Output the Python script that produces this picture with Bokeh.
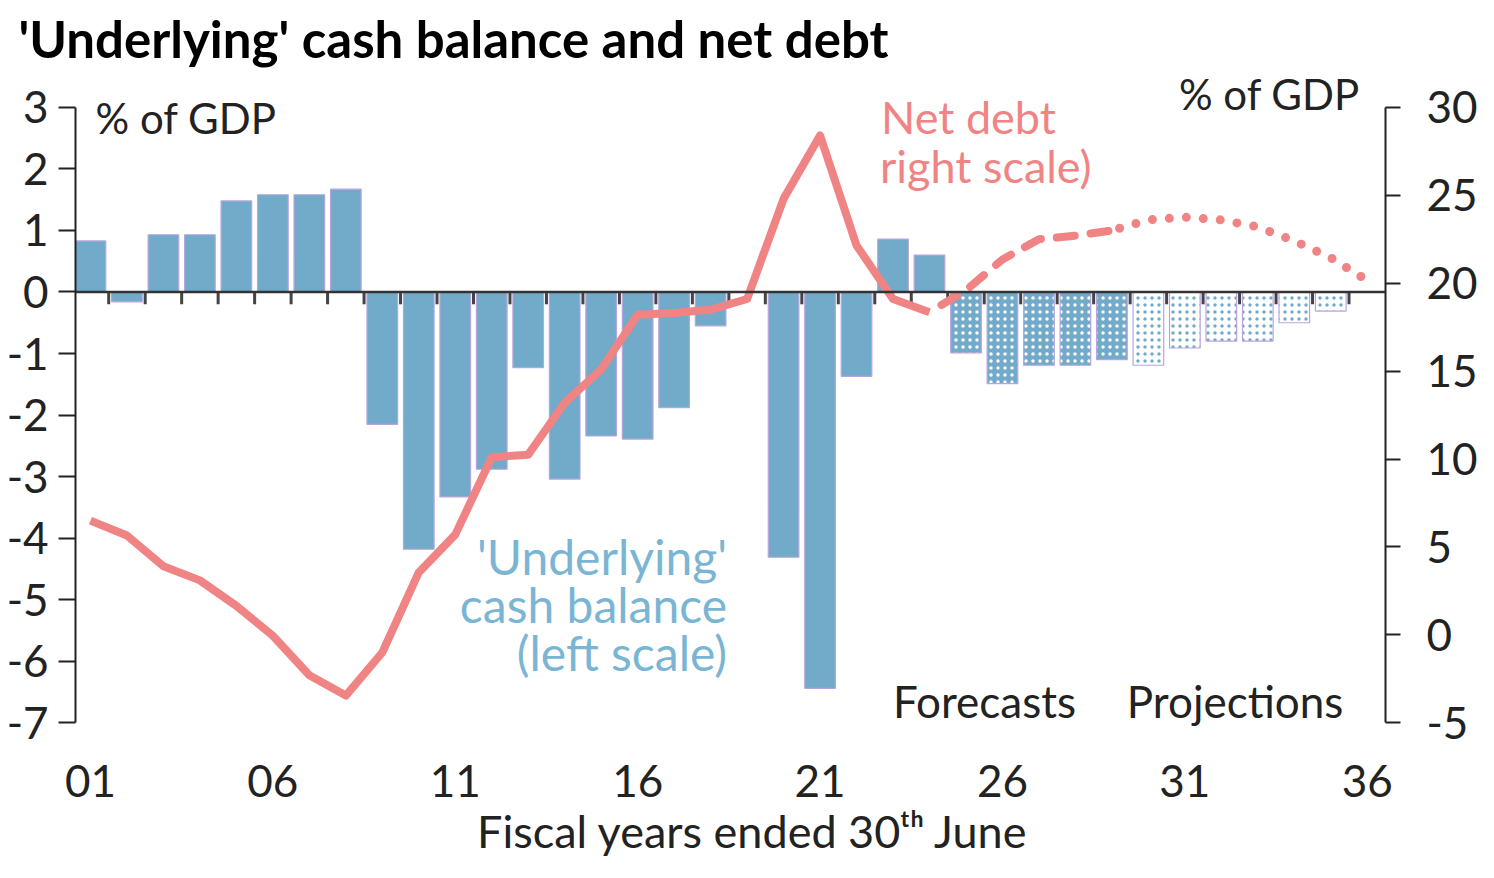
from bokeh.plotting import figure
from bokeh.models import Range1d, LinearAxis, FixedTicker, Span, Label
from bokeh.embed import file_html
from bokeh.resources import INLINE

# ---------------- data ----------------
bar_years = list(range(1, 36))            # fiscal years 2001..2035
cash_balance = [0.83, -0.16, 0.93, 0.93, 1.48, 1.58, 1.58, 1.67, -2.15, -4.18,
                -3.33, -2.88, -1.23, -3.04, -2.34, -2.39, -1.88, -0.55, 0.0, -4.31,
                -6.44, -1.37, 0.86, 0.60, -0.99, -1.49, -1.19, -1.19, -1.10, -1.19,
                -0.91, -0.80, -0.80, -0.50, -0.31]
debt_years = list(range(1, 37))           # fiscal years 2001..2036
net_debt = [6.5, 5.65, 3.9, 3.1, 1.65, -0.05, -2.3, -3.45, -1.0, 3.55,
            5.7, 10.1, 10.25, 13.2, 15.1, 18.2, 18.3, 18.5, 19.1, 24.8,
            28.4, 22.15, 19.1, 18.35, 19.6, 21.35, 22.5, 22.7, 23.0, 23.6,
            23.75, 23.6, 23.2, 22.4, 21.45, 20.15]
last_actual_year = 24
last_forecast_year = 29
x_ticks = [1, 6, 11, 16, 21, 26, 31, 36]
x_tick_labels = ["01", "06", "11", "16", "21", "26", "31", "36"]
left_ticks = [-7, -6, -5, -4, -3, -2, -1, 0, 1, 2, 3]
left_tick_labels = ["-7", "-6", "-5", "-4", "-3", "-2", "-1", "0", "1", "2", "3"]
right_ticks = [-5, 0, 5, 10, 15, 20, 25, 30]
right_tick_labels = ["-5", "0", "5", "10", "15", "20", "25", "30"]

# ---------------- style ----------------
FONT = "Lato"
BLUE = "#72aac9"
EDGE = "#b7a6de"
RED = "#f08484"
LBLUE = "#7ab6d4"
INK = "#222222"

LEFT_LO, LEFT_HI = -7.45, 3.55           # frame extent (axes drawn only over -7..3)
RATIO = 3.5                               # right-scale units per left-scale unit
p = figure(frame_width=1310, frame_height=677,
           x_range=Range1d(0.59, 36.5), y_range=Range1d(LEFT_LO, LEFT_HI),
           output_backend="svg", toolbar_location=None,
           min_border_left=75, min_border_right=93, min_border_top=63, min_border_bottom=60)
p.extra_y_ranges = {"debt": Range1d(-5 + (LEFT_LO + 7) * RATIO, -5 + (LEFT_HI + 7) * RATIO)}
p.outline_line_color = None
p.grid.visible = False
p.background_fill_color = "white"
p.border_fill_color = "white"

p.title.text = "'Underlying' cash balance and net debt"
p.title.text_font = FONT
p.title.text_font_size = "51px"
p.title.text_font_style = "bold"
p.title.text_color = "black"
p.title.align = "left"
p.title.offset = -57
p.title.standoff = 10

# bottom axis
xa = p.xaxis[0]
xa.ticker = FixedTicker(ticks=x_ticks)
xa.major_label_overrides = {t: l for t, l in zip(x_ticks, x_tick_labels)}
xa.axis_line_color = None
xa.major_tick_line_color = None
xa.minor_tick_line_color = None
xa.major_label_standoff = 8
xa.major_label_text_font = FONT
xa.major_label_text_font_size = "44px"
xa.major_label_text_color = INK
xa.axis_label = "\u2002\u2002Fiscal years ended 30ᵗʰ June"
xa.axis_label_text_font = FONT
xa.axis_label_text_font_size = "45px"
xa.axis_label_text_font_style = "normal"
xa.axis_label_text_color = INK
xa.axis_label_standoff = 4

# left axis
ya = p.yaxis[0]
ya.ticker = FixedTicker(ticks=left_ticks)
ya.major_label_overrides = {t: l for t, l in zip(left_ticks, left_tick_labels)}
ya.bounds = (left_ticks[0], left_ticks[-1])
ya.axis_line_width = 2
ya.axis_line_color = INK
ya.major_tick_out = 17
ya.major_tick_in = 0
ya.major_tick_line_width = 2
ya.major_tick_line_color = INK
ya.minor_tick_line_color = None
ya.major_label_standoff = 10
ya.major_label_text_font = FONT
ya.major_label_text_font_size = "44px"
ya.major_label_text_color = INK

# right axis
ra = LinearAxis(y_range_name="debt", ticker=FixedTicker(ticks=right_ticks))
ra.major_label_overrides = {t: l for t, l in zip(right_ticks, right_tick_labels)}
ra.bounds = (right_ticks[0], right_ticks[-1])
ra.axis_line_width = 2
ra.axis_line_color = INK
ra.major_tick_out = 15
ra.major_tick_in = 0
ra.major_tick_line_width = 2
ra.major_tick_line_color = INK
ra.minor_tick_line_color = None
ra.major_label_standoff = 26
ra.major_label_text_font = FONT
ra.major_label_text_font_size = "44px"
ra.major_label_text_color = INK
p.add_layout(ra, "right")

# ---------------- bars ----------------
def pick(xs, ys, cond):
    sel = [(x, y) for x, y in zip(xs, ys) if cond(x)]
    return [s[0] for s in sel], [s[1] for s in sel]

ax_, ay_ = pick(bar_years, cash_balance, lambda y: y <= last_actual_year)
fx_, fy_ = pick(bar_years, cash_balance, lambda y: last_actual_year < y <= last_forecast_year)
px_, py_ = pick(bar_years, cash_balance, lambda y: y > last_forecast_year)

BW = 0.84
p.vbar(x=ax_, top=ay_, bottom=0, width=BW, fill_color=BLUE, line_color=EDGE, line_width=1.2)
p.vbar(x=fx_, top=fy_, bottom=0, width=BW, fill_color=BLUE, line_color=EDGE, line_width=1.2,
       hatch_pattern="dot", hatch_color="white", hatch_scale=7, hatch_weight=3)
p.vbar(x=px_, top=py_, bottom=0, width=BW, fill_color="white", line_color=EDGE, line_width=1.2,
       hatch_pattern="dot", hatch_color=BLUE, hatch_scale=7, hatch_weight=3)

# zero line with year-boundary ticks
p.add_layout(Span(location=0, dimension="width", line_color="#333333", line_width=2.5))
bounds = [y + 0.5 for y in bar_years]
p.segment(x0=bounds, y0=[0] * len(bounds), x1=bounds, y1=[-0.2] * len(bounds),
          line_color="#444444", line_width=3)

# ---------------- net debt line ----------------
dx_a, dy_a = pick(debt_years, net_debt, lambda y: y <= last_actual_year)
dx_f, dy_f = pick(debt_years, net_debt, lambda y: last_actual_year <= y <= last_forecast_year)
dx_p, dy_p = pick(debt_years, net_debt, lambda y: y >= last_forecast_year)

p.line(dx_a, dy_a, y_range_name="debt", line_color=RED, line_width=8, line_join="round")
p.line(dx_f, dy_f, y_range_name="debt", line_color=RED, line_width=8,
       line_dash="18 16", line_cap="round", line_dash_offset=-14)
p.line(dx_p, dy_p, y_range_name="debt", line_color=RED, line_width=9,
       line_dash="0 17", line_cap="round", line_dash_offset=-8)

# ---------------- annotations ----------------
def lab(x, y, text, color=INK, size="42px", align="left"):
    p.add_layout(Label(x=x, y=y, text=text, text_font=FONT, text_font_size=size,
                       text_color=color, text_align=align, text_baseline="alphabetic"))

lab(1.14, 2.83, "% of GDP")
lab(35.8, 3.21, "% of GDP", align="right")
lab(22.67, 2.85, "Net debt", color=RED, size="45px")
lab(22.64, 2.04, "right scale)", color=RED, size="45px")
lab(18.45, -4.29, "'Underlying'", color=LBLUE, size="48px", align="right")
lab(18.45, -5.07, "cash balance", color=LBLUE, size="48px", align="right")
lab(18.45, -5.85, "(left scale)", color=LBLUE, size="48px", align="right")
lab(23.0, -6.65, "Forecasts", size="44px")
lab(29.41, -6.65, "Projections", size="44px")

open("out.html", "w").write(file_html(p, INLINE))
